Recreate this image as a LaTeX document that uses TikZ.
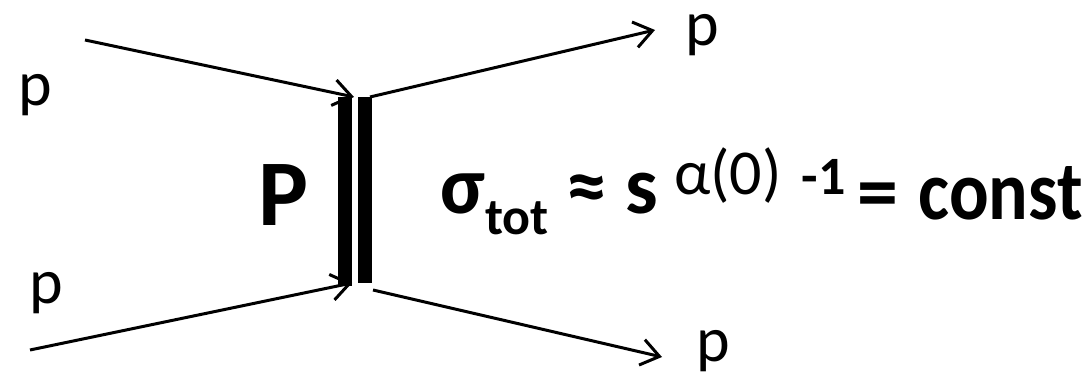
\documentclass[tikz,border=0pt]{standalone}
\usepackage{fontspec}
\usepackage{graphicx}
\setmainfont{Carlito}
\usetikzlibrary{positioning, arrows.meta}

\begin{document}
\begin{tikzpicture}[x=0.5pt, y=-0.5pt,
  leg/.style={line width=1.5pt, -{Straight Barb[length=9pt, width=13pt, line width=1.5pt]}},
  prop/.style={line width=7pt},
  lbl/.style={font=\fontsize{32}{36}\selectfont, inner sep=0pt},
  big/.style={font=\fontsize{41}{46}\selectfont\bfseries, inner sep=0pt}]
  \useasboundingbox (0,0) rectangle (1091,378);
  % pomeron exchange
  \coordinate (lt) at (345,97);
  \coordinate (lb) at (345,286);
  \coordinate (rt) at (364.5,97);
  \coordinate (rb) at (364.5,283);
  \draw[prop] (lt) -- (lb);
  \draw[prop] (rt) -- (rb);
  % external protons
  \coordinate (in1) at (85,40);
  \coordinate (in2) at (30,350);
  \coordinate (v1) at (354,97);
  \coordinate (v2) at (352,283);
  \coordinate (w1) at (370,97);
  \coordinate (w2) at (373,290);
  \coordinate (out1) at (655,30);
  \coordinate (out2) at (662,357);
  \draw[leg] (in1) -- (v1);
  \draw[leg] (in2) -- (v2);
  \draw[leg] (w1) -- (out1);
  \draw[leg] (w2) -- (out2);
  \node[lbl] (p1) at (35,95) {p};
  \node[lbl] (p2) at (46,293) {p};
  \node[lbl] (p3) at (702,35) {p};
  \node[lbl] (p4) at (713,351) {p};
  \node[big, font=\fontsize{47}{50}\selectfont\bfseries] (pom) at (284,195) {P};
  \node[big, anchor=base west] (sig) at (440,214)
    {σ\raisebox{-10.5pt}{\fontsize{26}{28}\selectfont tot}\hspace{9pt}≈\hspace{9pt}s\hspace{8pt}\raisebox{9.5pt}{\fontsize{32}{34}\selectfont\mdseries α(0)\hspace{10pt}\fontsize{27}{30}\selectfont\bfseries -1}\hspace{6pt}\raisebox{-3pt}{=\hspace{10pt}\fontsize{42}{46}\selectfont\scalebox{0.88}[1]{const}}};
\end{tikzpicture}
\end{document}
